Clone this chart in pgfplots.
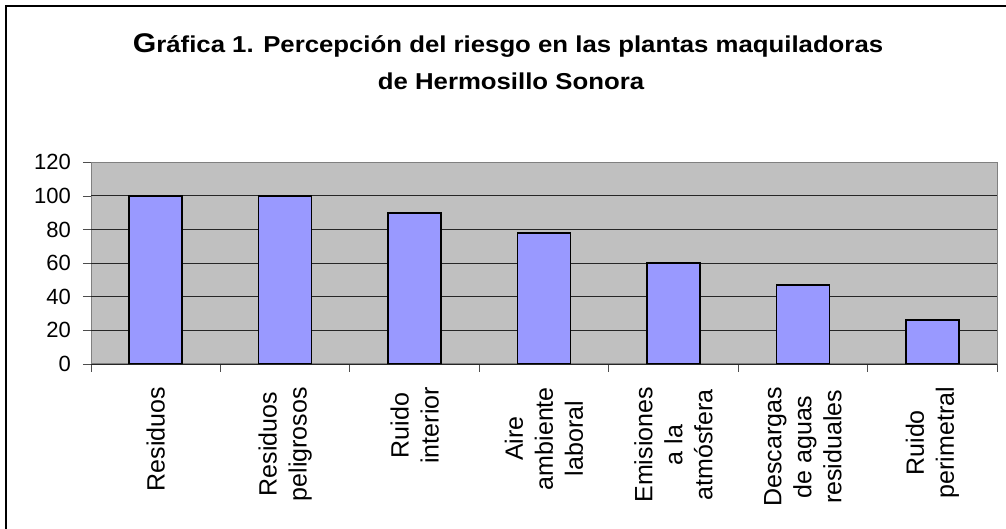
\documentclass[border=0pt]{standalone}
\usepackage{fontspec}
\setmainfont{Liberation Sans}
\newfontfamily\titlefont{Liberation Sans}[FakeStretch=1.12]
\usepackage{pgfplots}
\pgfplotsset{compat=1.18}
\definecolor{plotbg}{HTML}{C0C0C0}
\definecolor{barfill}{HTML}{9999FF}
\definecolor{axisgray}{HTML}{808080}
\begin{document}
\begin{tikzpicture}[x=1pt,y=1pt]
\useasboundingbox (0,0) rectangle (1006,529);
\draw[line width=2pt,black] (5.8,0) -- (5.8,523.2) -- (1006,523.2);
\node[anchor=base, inner sep=0, font=\titlefont\bfseries\fontsize{23}{26}\selectfont] at (508,476.5) {{\fontsize{27}{26}\selectfont G}ráfica 1. Percepción del riesgo en las plantas maquiladoras};
\node[anchor=base, inner sep=0, font=\titlefont\bfseries\fontsize{23}{26}\selectfont] at (511,439) {de Hermosillo Sonora};
\begin{axis}[
  at={(91pt,165pt)}, anchor=south west, scale only axis,
  width=906pt, height=201.7pt,
  xmin=0.5, xmax=7.5, ymin=0, ymax=120,
  axis background/.style={fill=plotbg},
  axis line style={draw=axisgray, line width=1pt},
  tick pos=left,
  ytick={0,20,...,120},
  /pgf/number format/assume math mode=true,
  tick align=outside,
  major tick length=8pt,
  tick style={draw=axisgray!60!black, line width=0.8pt},
  yticklabel style={font=\fontsize{22}{26}\selectfont, inner sep=0pt, anchor=east},
  yticklabel shift=12pt,
  extra y ticks={0,20,40,60,80,100},
  extra y tick labels={},
  extra y tick style={grid=major, major tick length=0pt, grid style={draw=black!85, line width=0.9pt}},
  xtick={0.5,1.5,...,7.5},
  xticklabels={},
  extra x ticks={1,2,3,4,5,6,7},
  extra x tick labels={{Residuos},{Residuos\\peligrosos},{Ruido\\interior},{Aire\\ambiente\\laboral},{Emisiones\\a la\\atmósfera},{Descargas\\de aguas\\residuales},{Ruido\\perimetral}},
  extra x tick style={major tick length=0pt, tick style={draw=none},
    xticklabel style={font=\fontsize{25}{30}\selectfont, rotate=90, anchor=east, align=center, inner sep=0pt},
    xticklabel shift=23pt},
]
\addplot[ybar, bar width=53pt, bar shift=0pt, fill=barfill, draw=black, line width=1.6pt] coordinates {(1,100) (2,100) (3,90) (4,78) (5,60) (6,47) (7,26)};
\end{axis}
\end{tikzpicture}
\end{document}
